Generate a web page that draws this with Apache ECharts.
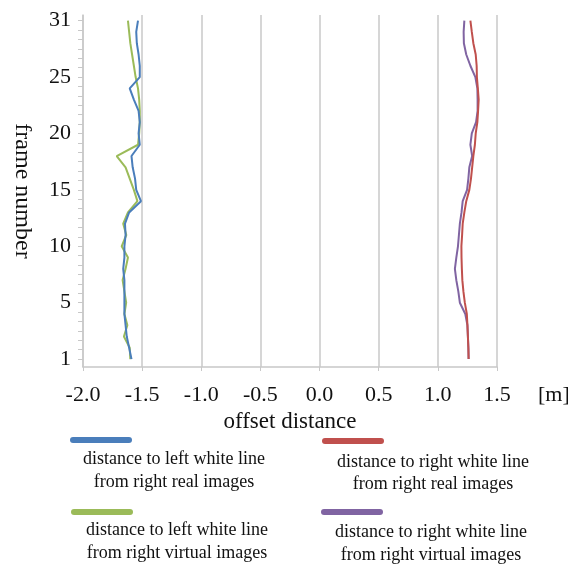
<!DOCTYPE html>
<html>
<head>
<meta charset="utf-8">
<script src="https://cdn.jsdelivr.net/npm/echarts@6/dist/echarts.min.js"></script>
<style>
html,body{margin:0;padding:0;background:#fff;}
#main{width:568px;height:568px;}
</style>
</head>
<body>
<div id="main"></div>
<script>
// offset per frame, frame 1 first
var leftReal = [-1.59,-1.61,-1.63,-1.64,-1.65,-1.65,-1.65,-1.65,-1.66,-1.65,-1.65,-1.64,-1.645,-1.61,-1.51,-1.55,-1.56,-1.58,-1.59,-1.52,-1.53,-1.52,-1.53,-1.57,-1.605,-1.52,-1.52,-1.53,-1.545,-1.55,-1.535];
var leftVirtual = [-1.60,-1.605,-1.654,-1.625,-1.65,-1.635,-1.65,-1.665,-1.64,-1.62,-1.673,-1.634,-1.66,-1.62,-1.54,-1.57,-1.605,-1.64,-1.715,-1.535,-1.525,-1.52,-1.52,-1.525,-1.535,-1.555,-1.57,-1.585,-1.60,-1.61,-1.62];
var rightReal = [1.26,1.258,1.254,1.25,1.245,1.228,1.216,1.207,1.203,1.20,1.199,1.205,1.21,1.224,1.24,1.266,1.28,1.29,1.30,1.313,1.32,1.334,1.34,1.345,1.338,1.33,1.328,1.32,1.30,1.287,1.275];
var rightVirtual = [1.26,1.258,1.254,1.25,1.232,1.186,1.173,1.156,1.144,1.156,1.17,1.178,1.186,1.20,1.21,1.247,1.258,1.266,1.29,1.275,1.287,1.323,1.336,1.336,1.334,1.317,1.275,1.24,1.22,1.218,1.224];

var yTickPos = [0,5,10,15,20,25,30];
var yTickLabels = ['1','5','10','15','20','25','31'];

var seriesNames = ['left real','right real','left virtual','right virtual'];
var seriesColors = ['#4a7ebb','#c0504d','#9bbb59','#8064a2'];
var legendText = [
  ['distance to left white line','from right real images'],
  ['distance to right white line','from right real images'],
  ['distance to left white line','from right virtual images'],
  ['distance to right white line','from right virtual images']
];

var serif = '"Liberation Serif","DejaVu Serif",serif';

function toPoints(arr){
  return arr.map(function(v,i){ return [v,i]; });
}

var minorTicks = [];
for (var t = 0; t <= 30.001; t += 5/6) minorTicks.push(t);

var allData = [leftReal, rightReal, leftVirtual, rightVirtual];
var series = allData.map(function(d,i){
  return {
    name: seriesNames[i],
    type: 'line',
    data: toPoints(d),
    symbol: 'none',
    smooth: false,
    lineStyle: {color: seriesColors[i], width: 2},
    itemStyle: {color: seriesColors[i]},
    z: i===0||i===1 ? 3 : 2
  };
});

// legend keys: one legend per series, text drawn separately below each key
var legendPos = [[70,437],[322,438],[71,509],[321,509]];
var legends = seriesNames.map(function(n,i){
  return {
    data:[n], left:legendPos[i][0], top:legendPos[i][1], padding:0,
    icon:'path://M3,0 L59,0 A3,3 0 0 1 59,6 L3,6 A3,3 0 0 1 3,0 Z',
    itemWidth:62, itemHeight:6, formatter:function(){return '';},
    selectedMode:false
  };
});

var textPos = [[174,459,482],[433,462,484],[177,530,553],[431,532,555]];
var graphics = [];
legendText.forEach(function(lines,i){
  lines.forEach(function(s,j){
    graphics.push({
      type:'text',
      x:textPos[i][0], y:textPos[i][j+1],
      style:{text:s, font:'18px '+serif, fill:'#111', align:'center', verticalAlign:'middle'}
    });
  });
});
graphics.push({
  type:'text', x:538, y:395,
  style:{text:'[m]', font:'22px '+serif, fill:'#111', align:'left', verticalAlign:'middle'}
});

var chart = echarts.init(document.getElementById('main'));
chart.setOption({
  animation:false,
  backgroundColor:'#fff',
  grid:{left:83, right:71, top:15, bottom:201, outerBoundsMode:'none', containLabel:false},
  xAxis:{
    type:'value', min:-2, max:1.5, interval:0.5,
    name:'offset distance', nameLocation:'middle', nameGap:36,
    nameTextStyle:{fontFamily:serif, fontSize:23, color:'#111'},
    axisLine:{show:true, onZero:false, lineStyle:{color:'#c8c8c8', width:1.5}},
    axisTick:{show:true, length:4, lineStyle:{color:'#c8c8c8'}},
    axisLabel:{fontFamily:serif, fontSize:22, color:'#111', margin:17,
      formatter:function(v){return v.toFixed(1);}},
    splitLine:{show:true, lineStyle:{color:'#c8c8c8', width:1.5}}
  },
  yAxis:{
    type:'value', min:-0.7, max:30.5,
    name:'frame number', nameLocation:'middle', nameGap:49, nameRotate:-90,
    nameTextStyle:{fontFamily:serif, fontSize:24, color:'#111'},
    axisLine:{show:true, onZero:false, lineStyle:{color:'#c8c8c8', width:1.5}},
    axisTick:{show:true, length:5, customValues:minorTicks, lineStyle:{color:'#c8c8c8'}},
    axisLabel:{fontFamily:serif, fontSize:22, color:'#111', margin:12,
      customValues:yTickPos,
      formatter:function(v){
        var k = yTickPos.indexOf(Math.round(v));
        return k >= 0 ? yTickLabels[k] : '';
      }},
    splitLine:{show:false}
  },
  legend:legends,
  graphic:graphics,
  series:series
});
</script>
</body>
</html>
